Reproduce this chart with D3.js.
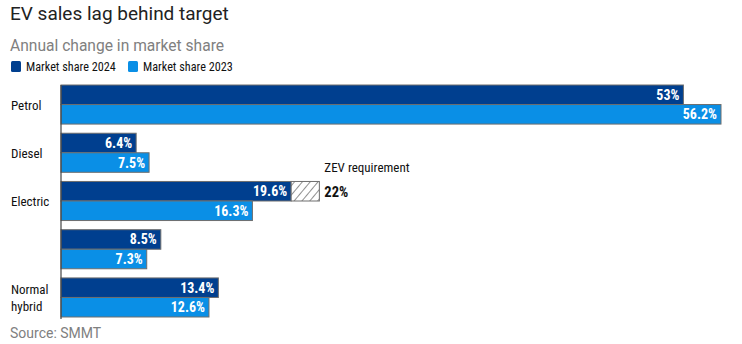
<!DOCTYPE html>
<html><head><meta charset="utf-8">
<script src="https://cdn.jsdelivr.net/npm/d3@7"></script>
<style>
body{margin:0;background:#fff;}
.cond{font-family:"Liberation Sans Narrow","Roboto Condensed","Arial Narrow",sans-serif;}
</style>
</head><body>
<svg id="chart" width="742" height="344"></svg>
<script>
const categories = ["Petrol", "Diesel", "Electric", "", "Normal hybrid"];
const share2024 = [53, 6.4, 19.6, 8.5, 13.4];
const share2023 = [56.2, 7.5, 16.3, 7.3, 12.6];
const seriesNames = ["Market share 2024", "Market share 2023"];
const zevRequirement = 22;
const zevCategory = "Electric";

const colors = ["#003f8f", "#0a8fe6"];
const svg = d3.select("#chart");
const left = 61;

const x = d3.scaleLinear().domain([0, 56.2]).range([left, 721]);
const y = d3.scaleBand().domain(d3.range(categories.length)).range([85, 317]).paddingInner(0.19).paddingOuter(0);
const sub = d3.scaleBand().domain([0, 1]).range([0, y.bandwidth()]);

// hatch pattern
const defs = svg.append("defs");
const pat = defs.append("pattern").attr("id", "hatch").attr("patternUnits", "userSpaceOnUse")
  .attr("width", 6).attr("height", 6).attr("patternTransform", "rotate(40)");
pat.append("rect").attr("width", 6).attr("height", 6).attr("fill", "#fff");
pat.append("line").attr("x1", 0).attr("y1", 0).attr("x2", 0).attr("y2", 6).attr("stroke", "#222").attr("stroke-width", 1);

// Title
svg.append("text").attr("x", 10).attr("y", 20).attr("font-family", "Roboto, 'Noto Sans', sans-serif")
  .attr("font-size", 19).attr("fill", "#222").text("EV sales lag behind target");
svg.append("text").attr("x", 10).attr("y", 51).attr("font-family", "Roboto, 'Noto Sans', sans-serif")
  .attr("font-size", 15.6).attr("fill", "#808080").text("Annual change in market share");

// Legend
const lg = svg.append("g");
const legX = [11, 128];
seriesNames.forEach((n, i) => {
  lg.append("rect").attr("x", legX[i]).attr("y", 61).attr("width", 10).attr("height", 11).attr("rx", 1.5).attr("fill", colors[i]);
  lg.append("text").attr("class", "cond").attr("x", legX[i] + 15).attr("y", 71).attr("font-size", 12.2).attr("fill", "#111").text(n);
});

const series = [share2024, share2023];
const g = svg.append("g");
categories.forEach((c, i) => {
  series.forEach((s, j) => {
    const y0 = y(i) + sub(j);
    g.append("rect").attr("x", x(0)).attr("y", y0).attr("width", x(s[i]) - x(0)).attr("height", sub.bandwidth())
      .attr("fill", colors[j]).attr("stroke", "#6e6e6e").attr("stroke-width", 1);
    g.append("text").attr("class", "cond").attr("x", x(s[i]) - 4).attr("y", y0 + sub.bandwidth() / 2 + 5)
      .attr("text-anchor", "end").attr("font-size", 14).attr("font-weight", "bold").attr("fill", "#fff")
      .text(d3.format("")(s[i]) + "%");
  });
  // category label
  const words = c === "Normal hybrid" ? ["Normal", "hybrid"] : (c ? [c] : []);
  const cy = y(i) + y.bandwidth() / 2;
  words.forEach((w, k) => {
    g.append("text").attr("class", "cond").attr("x", 11)
      .attr("y", cy + 5 + (k - (words.length - 1) / 2) * 17)
      .attr("font-size", 13).attr("fill", "#111").text(w);
  });
});

// ZEV requirement
const zi = categories.indexOf(zevCategory);
const zy = y(zi) + sub(0);
g.append("rect").attr("x", x(share2024[zi])).attr("y", zy).attr("width", x(zevRequirement) - x(share2024[zi]))
  .attr("height", sub.bandwidth()).attr("fill", "url(#hatch)").attr("stroke", "#6e6e6e").attr("stroke-width", 1);
g.append("text").attr("class", "cond").attr("x", x(zevRequirement) + 5).attr("y", zy - 9)
  .attr("font-size", 13).attr("fill", "#111").text("ZEV requirement");
g.append("text").attr("class", "cond").attr("x", x(zevRequirement) + 5).attr("y", zy + sub.bandwidth() / 2 + 5.5)
  .attr("font-size", 14.5).attr("font-weight", "bold").attr("fill", "#111").text(zevRequirement + "%");

// axis line
svg.append("line").attr("x1", x(0)).attr("x2", x(0)).attr("y1", 85).attr("y2", 319).attr("stroke", "#444").attr("stroke-width", 1.2);

// Source
svg.append("text").attr("x", 10).attr("y", 338).attr("font-family", "Roboto, 'Noto Sans', sans-serif")
  .attr("font-size", 14).attr("fill", "#808080").text("Source: SMMT");
</script>
</body></html>
